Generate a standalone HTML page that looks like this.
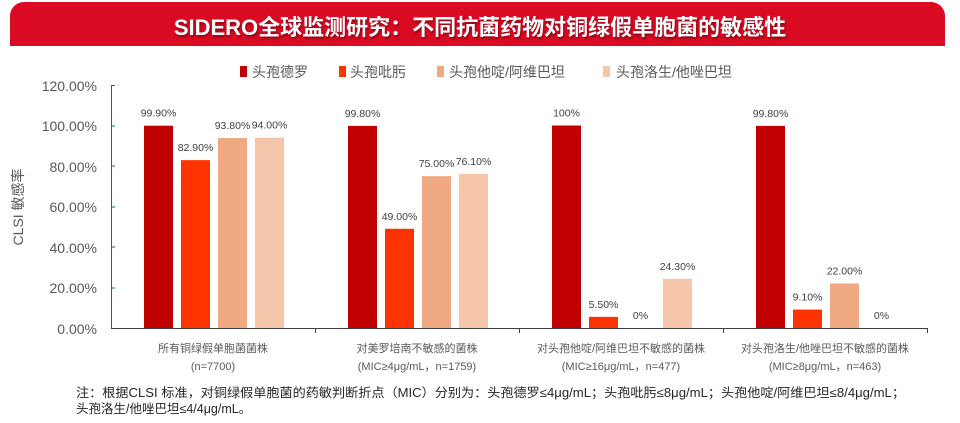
<!DOCTYPE html>
<html><head><meta charset="utf-8"><style>
body{margin:0;width:960px;height:423px;background:#fff;overflow:hidden;font-family:"Liberation Sans","Noto Sans CJK SC",sans-serif;}
.banner{position:absolute;left:10px;top:2px;width:935px;height:44px;background:#D90A22;border-radius:14px 14px 0 0;}
.title{position:absolute;left:0;width:960px;top:10px;text-align:center;color:#fff;font-weight:bold;font-size:22px;text-shadow:1px 2px 2px rgba(0,0,0,0.35);font-family:"Liberation Sans","Noto Sans CJK SC",sans-serif;}
</style></head><body>
<div class="banner"></div>
<div class="title">SIDERO全球监测研究：不同抗菌药物对铜绿假单胞菌的敏感性</div>
<svg width="960" height="423" style="position:absolute;left:0;top:0" font-family="Liberation Sans, Noto Sans CJK SC, sans-serif">
<g font-size="14" fill="#595959">
<rect x="240" y="66" width="7" height="11" fill="#C00000"/><text x="252" y="77">头孢德罗</text>
<rect x="339" y="66" width="7" height="11" fill="#FF3300"/><text x="350" y="77">头孢吡肟</text>
<rect x="437" y="66" width="7" height="11" fill="#F0A982"/><text x="449" y="77">头孢他啶/阿维巴坦</text>
<rect x="603" y="66" width="7" height="11" fill="#F5C6A9"/><text x="616" y="77">头孢洛生/他唑巴坦</text>
</g>
<g font-size="14" fill="#595959" text-anchor="end">
<text x="97" y="91">120.00%</text><text x="97" y="131">100.00%</text><text x="97" y="172">80.00%</text>
<text x="97" y="212">60.00%</text><text x="97" y="253">40.00%</text><text x="97" y="293">20.00%</text><text x="97" y="334">0.00%</text>
</g>
<text transform="translate(23,207) rotate(-90)" text-anchor="middle" font-size="14" fill="#595959">CLSI 敏感率</text>
<line x1="111.5" y1="85" x2="111.5" y2="328" stroke="#1F6391" stroke-width="1"/>
<g stroke="#1F6391"><line x1="111" y1="85.5" x2="115" y2="85.5"/><line x1="111" y1="126" x2="115" y2="126"/><line x1="111" y1="166" x2="115" y2="166"/><line x1="111" y1="207" x2="115" y2="207"/><line x1="111" y1="247" x2="115" y2="247"/><line x1="111" y1="288" x2="115" y2="288"/></g>
<g id="bars"></g>
<line x1="111" y1="328.5" x2="928" y2="328.5" stroke="#404040"/>
<g stroke="#404040"><line x1="315.5" y1="328" x2="315.5" y2="333"/><line x1="519.5" y1="328" x2="519.5" y2="333"/><line x1="723.5" y1="328" x2="723.5" y2="333"/><line x1="927.5" y1="328" x2="927.5" y2="333"/></g>
<g font-size="11" fill="#595959" text-anchor="middle">
<text x="213" y="352">所有铜绿假单胞菌菌株</text><text x="213" y="370">(n=7700)</text>
<text x="417" y="352">对美罗培南不敏感的菌株</text><text x="417" y="370">(MIC≥4μg/mL，n=1759)</text>
<text x="621" y="352">对头孢他啶/阿维巴坦不敏感的菌株</text><text x="621" y="370">(MIC≥16μg/mL，n=477)</text>
<text x="825" y="352">对头孢洛生/他唑巴坦不敏感的菌株</text><text x="825" y="370">(MIC≥8μg/mL，n=463)</text>
</g>
<g font-size="12.5" fill="#262626">
<text x="76" y="397" textLength="829" lengthAdjust="spacingAndGlyphs">注：根据CLSI 标准，对铜绿假单胞菌的药敏判断折点（MIC）分别为：头孢德罗≤4μg/mL；头孢吡肟≤8μg/mL；头孢他啶/阿维巴坦≤8/4μg/mL；</text>
<text x="76" y="413">头孢洛生/他唑巴坦≤4/4μg/mL。</text>
</g>
</svg>
<script>
var d=[[99.9,82.9,93.8,94.0],[99.8,49.0,75.0,76.1],[100,5.5,0,24.3],[99.8,9.1,22.0,0]];
var L=[["99.90%","82.90%","93.80%","94.00%"],["99.80%","49.00%","75.00%","76.10%"],["100%","5.50%","0%","24.30%"],["99.80%","9.10%","22.00%","0%"]];
var c=["#C00000","#FF3300","#F0A982","#F5C6A9"];var s="";
for(var g=0;g<4;g++)for(var i=0;i<4;i++){var x=144+204*g+37*i,h=d[g][i]*2.025,y=328-h;
if(h>0)s+='<rect x="'+x+'" y="'+y+'" width="29" height="'+h+'" fill="'+c[i]+'"/>';
s+='<text x="'+(x+14.5)+'" y="'+(y-9)+'" font-size="10.5" fill="#404040" text-anchor="middle">'+L[g][i]+'</text>';}
document.getElementById("bars").innerHTML=s;
</script>
</body></html>
